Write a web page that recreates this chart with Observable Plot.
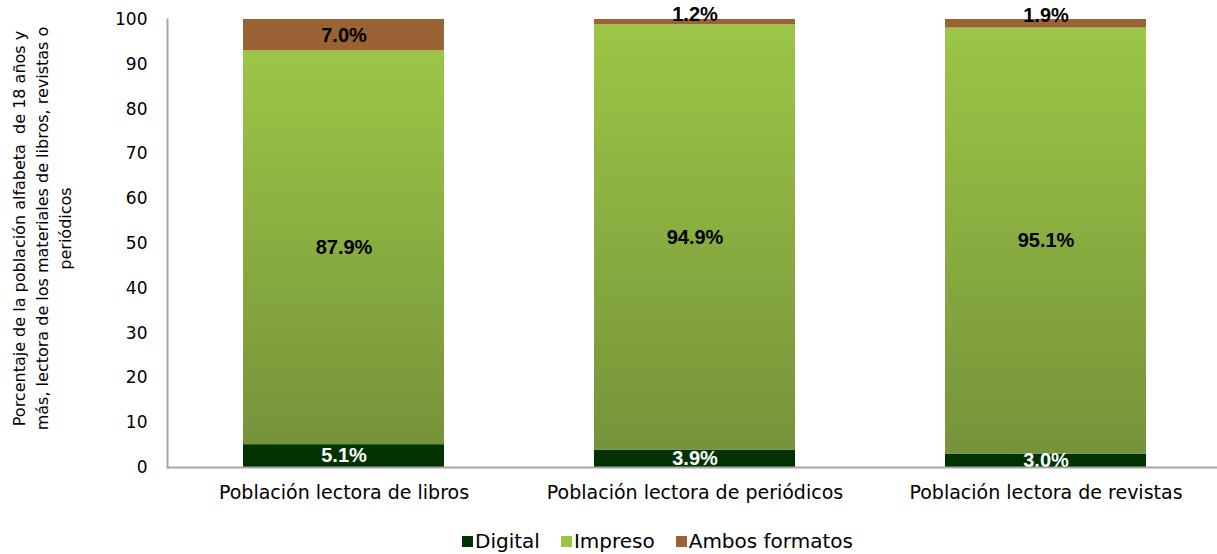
<!DOCTYPE html>
<html>
<head>
<meta charset="utf-8">
<script src="https://cdn.jsdelivr.net/npm/d3@7"></script>
<script src="https://cdn.jsdelivr.net/npm/@observablehq/plot@0.6"></script>
<style>
  body { margin: 0; background: #fff; font-family: "DejaVu Sans", sans-serif; }
  #chart svg { display: block; }
  #legend { margin-top: 14px; margin-left: 462px; display: flex; gap: 21px; font-size: 20px; line-height: 24px; color: #000; font-family: "DejaVu Sans", sans-serif; }
  #legend span.item { display: flex; align-items: center; }
  #legend span.sw { display: inline-block; width: 11px; height: 11px; margin-right: 2px; }
</style>
</head>
<body>
<div id="chart"></div>
<div id="legend"></div>
<script>
const categories = ["Población lectora de libros", "Población lectora de periódicos", "Población lectora de revistas"];
const series = ["Digital", "Impreso", "Ambos formatos"];
const digital = [5.1, 3.9, 3.0];
const impreso = [87.9, 94.9, 95.1];
const ambos = [7.0, 1.2, 1.9];
const yTicks = [0, 10, 20, 30, 40, 50, 60, 70, 80, 90, 100];
const yTitle = "Porcentaje de la población alfabeta  de 18 años y\nmás, lectora de los materiales de libros, revistas o\nperiódicos";
const seriesColors = ["#003300", "url(#impGrad)", "#9a6334"];
const legendColors = ["#003300", "#9bc444", "#9a6334"];
const labelColors = ["#ffffff", "#000000", "#000000"];

const valuesBySeries = [digital, impreso, ambos];
const data = [];
series.forEach((s, si) => categories.forEach((c, ci) => {
  data.push({category: c, series: s, value: valuesBySeries[si][ci], labelColor: labelColors[si]});
}));
const fmt = d => d.value.toFixed(1) + "%";
const bigLabel = d => d.value >= 2.5 ? fmt(d) : "";
const smallLabel = d => d.value < 2.5 ? fmt(d) : "";
const labelFont = "'Liberation Sans', Arial, sans-serif";

const chart = Plot.plot({
  width: 1217,
  height: 515,
  marginTop: 19,
  marginBottom: 48,
  marginLeft: 167,
  marginRight: 0,
  style: {fontFamily: "'DejaVu Sans', sans-serif", background: "#fff"},
  x: {domain: categories, range: [167, 1221], padding: 0, label: null},
  y: {domain: [0, 100], label: null},
  color: {domain: series, range: seriesColors},
  marks: [
    Plot.barY(data, Plot.stackY({x: "category", y: "value", z: "series", fill: "series", order: series, insetLeft: 75, insetRight: 75})),
    Plot.text(data, Plot.stackY({x: "category", y: "value", z: "series", order: series, text: bigLabel, fill: "labelColor", fontSize: 20, fontWeight: "bold", fontFamily: labelFont})),
    Plot.text(data, Plot.stackY({x: "category", y: "value", z: "series", order: series, text: smallLabel, fill: "labelColor", fontSize: 20, fontWeight: "bold", fontFamily: labelFont, dy: -8})),
    Plot.ruleY([0], {stroke: "#a6a6a6", strokeWidth: 2}),
    Plot.frame({anchor: "left", stroke: "#a6a6a6", strokeWidth: 2}),
    Plot.axisY({ticks: yTicks, tickSize: 0, tickPadding: 20, fontSize: 17, label: null, color: "#000"}),
    Plot.axisX({tickSize: 0, tickPadding: 18, fontSize: 19, label: null, color: "#000"}),
    Plot.text([yTitle], {frameAnchor: "left", rotate: -90, dx: -127, dy: -15, fontSize: 16, lineHeight: 1.45, textAnchor: "middle", fill: "#000"})
  ]
});

// gradient for the "Impreso" segments
const ns = "http://www.w3.org/2000/svg";
const defs = document.createElementNS(ns, "defs");
const grad = document.createElementNS(ns, "linearGradient");
grad.setAttribute("id", "impGrad");
grad.setAttribute("x1", "0"); grad.setAttribute("y1", "0");
grad.setAttribute("x2", "0"); grad.setAttribute("y2", "1");
[["0", "#9cc646"], ["1", "#76933a"]].forEach(([o, c]) => {
  const st = document.createElementNS(ns, "stop");
  st.setAttribute("offset", o); st.setAttribute("stop-color", c);
  grad.appendChild(st);
});
defs.appendChild(grad);
chart.insertBefore(defs, chart.firstChild);
document.getElementById("chart").appendChild(chart);

const legend = document.getElementById("legend");
series.forEach((s, i) => {
  const item = document.createElement("span");
  item.className = "item";
  const sw = document.createElement("span");
  sw.className = "sw";
  sw.style.background = legendColors[i];
  item.appendChild(sw);
  item.appendChild(document.createTextNode(s));
  legend.appendChild(item);
});
</script>
</body>
</html>
